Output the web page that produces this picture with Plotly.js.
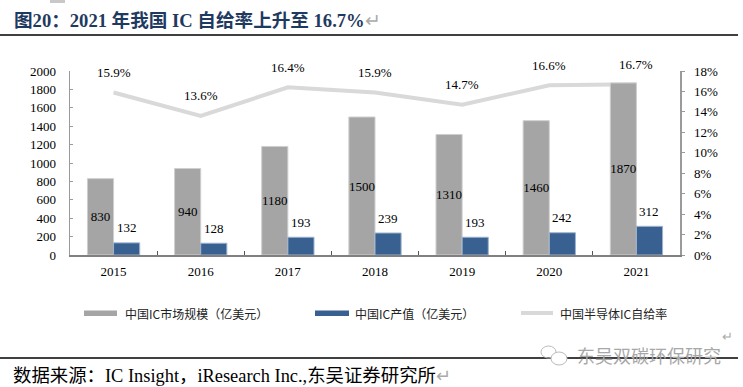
<!DOCTYPE html>
<html>
<head>
<meta charset="utf-8">
<script src="https://cdn.plot.ly/plotly-3.0.1.min.js"></script>
<style>
  html, body { margin: 0; padding: 0; background: #fff; }
  #chart { width: 743px; height: 387px; }
</style>
</head>
<body>
<div id="chart"></div>
<script>
// ---- data ----
const years = ['2015', '2016', '2017', '2018', '2019', '2020', '2021'];
const marketSize = [830, 940, 1180, 1500, 1310, 1460, 1870];   // 中国IC市场规模（亿美元）
const outputValue = [132, 128, 193, 239, 193, 242, 312];        // 中国IC产值（亿美元）
const selfRate = [15.9, 13.6, 16.4, 15.9, 14.7, 16.6, 16.7];    // 中国半导体IC自给率 (%)
const seriesNames = ['中国IC市场规模（亿美元）', '中国IC产值（亿美元）', '中国半导体IC自给率'];
const titleText = '图20：2021 年我国 IC 自给率上升至 16.7%';
const sourceText = '数据来源：IC Insight，iResearch Inc.,东吴证券研究所';
const watermarkText = '东吴双碳环保研究';

// ---- geometry helpers (pixel -> paper) ----
const W = 743, H = 387, ML = 70, MR = 63, MT = 71, MB = 132;
const PW = W - ML - MR, PH = H - MT - MB;
const X = px => (px - ML) / PW;
const Y = py => (H - MB - py) / PH;

const serif = 'Liberation Serif, "Times New Roman", "Noto Sans CJK SC", serif';
const cjk = '"Noto Sans CJK SC", sans-serif';
const GRAY = '#a5a5a5', BLUE = '#386192', LINEC = '#d9d9d9';

const traces = [
  {
    type: 'scatter', mode: 'lines', name: seriesNames[2],
    x: years, y: selfRate, xaxis: 'x', yaxis: 'y',
    line: { color: LINEC, width: 4 }, hoverinfo: 'skip', showlegend: false
  },
  {
    type: 'bar', name: seriesNames[0], x: years, y: marketSize,
    xaxis: 'x', yaxis: 'y2',
    marker: { color: GRAY, line: { color: '#cfcfcf', width: 1 } },
    text: marketSize.map(String), textposition: 'inside', insidetextanchor: 'middle',
    constraintext: 'none', textangle: 0,
    textfont: { family: serif, size: 13, color: '#000' }, showlegend: false
  },
  {
    type: 'bar', name: seriesNames[1], x: years, y: outputValue,
    xaxis: 'x', yaxis: 'y2',
    marker: { color: BLUE, line: { color: '#9fb3cc', width: 1 } },
    showlegend: false
  }
];

const annotations = [];
// rate labels (x given as category index)
years.forEach((yr, i) => annotations.push({
  x: i, y: selfRate[i], xref: 'x', yref: 'y', yshift: 20, showarrow: false,
  text: selfRate[i].toFixed(1) + '%', font: { family: serif, size: 13, color: '#000' }
}));
// output value labels
years.forEach((yr, i) => annotations.push({
  x: i, y: outputValue[i], xref: 'x', yref: 'y2', xshift: 13, yshift: 15, showarrow: false,
  text: String(outputValue[i]), font: { family: serif, size: 13, color: '#000' }
}));
// title
annotations.push({
  xref: 'paper', yref: 'paper', x: X(12), y: Y(20), xanchor: 'left', yanchor: 'middle',
  showarrow: false,
  text: '<b>' + titleText + '</b><span style="color:#aaaaaa">↵</span>',
  font: { family: serif, size: 18.6, color: '#1f3a60' }
});
// legend texts
[[123, seriesNames[0]], [353, seriesNames[1]], [558, seriesNames[2]]].forEach(([px, t]) =>
  annotations.push({
    xref: 'paper', yref: 'paper', x: X(px), y: Y(313), xanchor: 'left', yanchor: 'middle',
    showarrow: false, text: t, font: { family: cjk, size: 12, color: '#222' }
  }));
// source
annotations.push({
  xref: 'paper', yref: 'paper', x: X(11), y: Y(376), xanchor: 'left', yanchor: 'middle',
  showarrow: false, text: sourceText + '<span style="color:#aaaaaa">↵</span>',
  font: { family: serif, size: 18.4, color: '#000' }
});
// watermark
annotations.push({
  xref: 'paper', yref: 'paper', x: X(575), y: Y(355), xanchor: 'left', yanchor: 'middle',
  showarrow: false, text: watermarkText, font: { family: cjk, size: 18, color: '#a8a8a8' }
});
annotations.push({
  xref: 'paper', yref: 'paper', x: X(727), y: Y(336), xanchor: 'center', yanchor: 'middle',
  showarrow: false, text: '↵', font: { family: serif, size: 13, color: '#aaaaaa' }
});

const shapes = [
  { type: 'rect', xref: 'paper', yref: 'paper', x0: X(50), x1: X(65), y0: Y(0), y1: Y(3),
    fillcolor: '#c8c8c8', line: { width: 0 } },
  { type: 'line', xref: 'paper', yref: 'paper', x0: X(0), x1: X(738), y0: Y(35), y1: Y(35),
    line: { color: '#000', width: 1.5 } },
  { type: 'rect', xref: 'paper', yref: 'paper', x0: X(84), x1: X(117), y0: Y(310.5), y1: Y(316),
    fillcolor: GRAY, line: { width: 0 } },
  { type: 'rect', xref: 'paper', yref: 'paper', x0: X(315), x1: X(349), y0: Y(310.5), y1: Y(316),
    fillcolor: BLUE, line: { width: 0 } },
  { type: 'line', xref: 'paper', yref: 'paper', x0: X(521), x1: X(553), y0: Y(313), y1: Y(313),
    line: { color: LINEC, width: 4 } },
  { type: 'line', xref: 'paper', yref: 'paper', x0: X(0), x1: X(738), y0: Y(358), y1: Y(358),
    line: { color: '#000', width: 1.5 } },
  { type: 'circle', xref: 'paper', yref: 'paper', x0: X(541), x1: X(556), y0: Y(358), y1: Y(346),
    line: { color: '#bbbbbb', width: 1 } },
  { type: 'circle', xref: 'paper', yref: 'paper', x0: X(551), x1: X(567), y0: Y(365), y1: Y(352),
    fillcolor: '#ffffff', line: { color: '#bbbbbb', width: 1 } }
];

const layout = {
  width: W, height: H,
  margin: { l: ML, r: MR, t: MT, b: MB, pad: 0 },
  paper_bgcolor: '#fff', plot_bgcolor: 'rgba(0,0,0,0)',
  showlegend: false,
  barmode: 'group', bargap: 0.4, bargroupgap: 0,
  font: { family: serif, size: 13, color: '#000' },
  xaxis: {
    type: 'category', categoryorder: 'array', categoryarray: years,
    range: [-0.5, years.length - 0.5], autorange: false,
    showline: true, linecolor: '#808080', linewidth: 2,
    ticks: 'inside', tickson: 'boundaries', ticklen: 4, tickcolor: '#555', tickwidth: 1,
    showgrid: false, zeroline: false, fixedrange: true,
    tickfont: { family: serif, size: 13, color: '#000' }, ticklabelstandoff: 3
  },
  yaxis: {
    side: 'right', range: [0, 18], autorange: false, dtick: 2, ticksuffix: '%',
    showline: true, linecolor: '#9a9a9a', linewidth: 1.5,
    ticks: 'outside', ticklen: 3, tickcolor: '#9a9a9a',
    showgrid: false, zeroline: false, fixedrange: true,
    tickfont: { family: serif, size: 13, color: '#000' }, ticklabelstandoff: 7
  },
  yaxis2: {
    side: 'left', overlaying: 'y', range: [0, 2000], autorange: false, dtick: 200,
    showline: true, linecolor: '#9a9a9a', linewidth: 1.5,
    ticks: 'inside', ticklen: 3, tickcolor: '#9a9a9a',
    showgrid: false, zeroline: false, fixedrange: true,
    tickfont: { family: serif, size: 13, color: '#000' }, ticklabelstandoff: 10
  },
  annotations: annotations,
  shapes: shapes
};

Plotly.newPlot('chart', traces, layout, { displayModeBar: false, staticPlot: true });
</script>
</body>
</html>
